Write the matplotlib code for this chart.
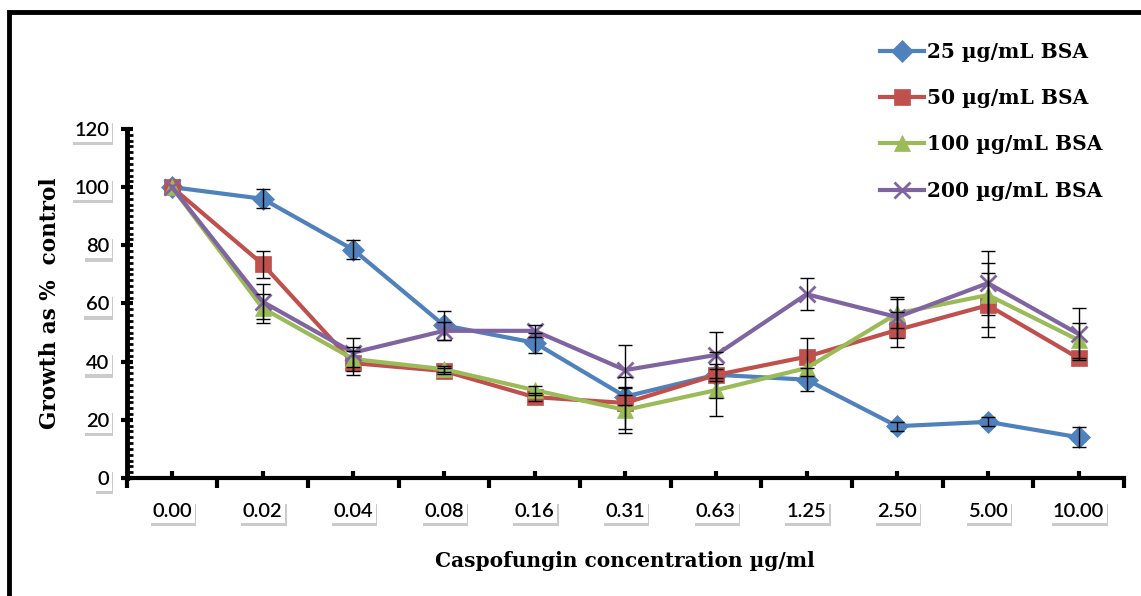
import matplotlib
matplotlib.use('Agg')
import matplotlib.pyplot as plt
import matplotlib.patheffects as pe
from matplotlib.patches import Rectangle
from matplotlib.ticker import MultipleLocator, FixedLocator

nan = float('nan')

conc_labels = ['0.00', '0.02', '0.04', '0.08', '0.16', '0.31', '0.63', '1.25', '2.50', '5.00', '10.00']

bsa25 = [100, 96, 78.5, 52.5, 46.5, 28, 35.5, 33.8, 17.8, 19.3, 14]
bsa25_err = [nan, 3.3, 3.3, 5, 3.5, 3, 2, 4, 1.5, 1.5, 3.4]

bsa50 = [100, 73.5, 39.5, 36.8, 27.8, 25.8, 35.4, 41.7, 50.9, 59.4, 41.2]
bsa50_err = [nan, 4.6, 4, 1, 1.5, 9, 8, 6.5, 6, 11, nan]

bsa100 = [100, 58.4, 40.9, 37.4, 30.2, 23.4, 30.2, 37.8, 56.6, 62.9, 47.4]
bsa100_err = [nan, 5, 4, 1, 1.5, 8, 9, nan, 5, 11, 6]

bsa200 = [100, 60.6, 43.1, 50.6, 50.6, 37.1, 42.3, 63.2, 55.3, 67, 49.5]
bsa200_err = [nan, 6, 5, 3, 2, 8.5, 8, 5.4, 7, 11, 9]

series = [
    ('25 \u00b5g/mL BSA', bsa25, bsa25_err, '#4F81BD', 'D', 11),
    ('50 \u00b5g/mL BSA', bsa50, bsa50_err, '#C0504D', 's', 11),
    ('100 \u00b5g/mL BSA', bsa100, bsa100_err, '#9BBB59', '^', 12),
    ('200 \u00b5g/mL BSA', bsa200, bsa200_err, '#8064A2', 'x', 12),
]

fig = plt.figure(figsize=(11.41, 5.96), dpi=100)
ax = fig.add_axes([0.111, 0.198, 0.874, 0.5856])

x = list(range(len(conc_labels)))
handles = []
for label, vals, err, col, mk, ms in series:
    ln, = ax.plot(x, vals, color=col, lw=3, marker=mk, markersize=ms,
                  markeredgewidth=2 if mk == 'x' else 0.5, markeredgecolor=col,
                  label=label, zorder=3)
    ax.errorbar(x, vals, yerr=err, fmt='none', ecolor='black', elinewidth=1,
                capsize=5, capthick=1, zorder=4)
    handles.append(ln)

ax.set_xlim(-0.5, 10.5)
ax.set_ylim(0, 120)
for s in ['top', 'right']:
    ax.spines[s].set_visible(False)
ax.spines['left'].set_linewidth(3.5)
ax.spines['bottom'].set_linewidth(3)

ax.set_xticks(x)
ax.set_xticklabels(conc_labels)
ax.xaxis.set_minor_locator(FixedLocator([i - 0.5 for i in range(12)]))
ax.tick_params(axis='x', which='major', direction='in', length=5, width=3, pad=18)
ax.tick_params(axis='x', which='minor', direction='out', length=7, width=3)
ax.yaxis.set_major_locator(MultipleLocator(20))
ax.yaxis.set_minor_locator(MultipleLocator(2))
ax.tick_params(axis='y', which='major', direction='inout', length=9, width=3, pad=8)
ax.tick_params(axis='y', which='minor', direction='in', length=4, width=2)

tickfont = ['Lato', 'DejaVu Sans']
for lbl in ax.get_xticklabels() + ax.get_yticklabels():
    lbl.set_fontfamily(tickfont)
    lbl.set_fontsize(14.5)
    lbl.set_fontweight('semibold')
    lbl.set_bbox(dict(facecolor='white', edgecolor='none', pad=2))
    lbl.get_bbox_patch().set_path_effects(
        [pe.withSimplePatchShadow(offset=(1, -2.5), shadow_rgbFace='#999999', alpha=0.5)])

ax.set_xlabel('Caspofungin concentration \u00b5g/ml', fontfamily='DejaVu Serif',
              fontweight='bold', fontsize=14.5, labelpad=22)
ax.set_ylabel('Growth as %  control', fontfamily='DejaVu Serif',
              fontweight='bold', fontsize=15.5, labelpad=10)

fig.legend(handles=handles, loc='upper left', bbox_to_anchor=(872 / 1141, 1 - 34 / 596),
           frameon=False, prop={'family': 'DejaVu Serif', 'weight': 'bold', 'size': 14.5},
           handlelength=2.2, handletextpad=0.15, labelspacing=1.3, borderaxespad=0)

# outer frame (cropped at right and bottom)
fig.patches.append(Rectangle((9 / 1141, -0.5), 2, 1.5 - 12 / 596, transform=fig.transFigure,
                             fill=False, edgecolor='black', linewidth=3.5))

fig.savefig('out.png', dpi=100)
